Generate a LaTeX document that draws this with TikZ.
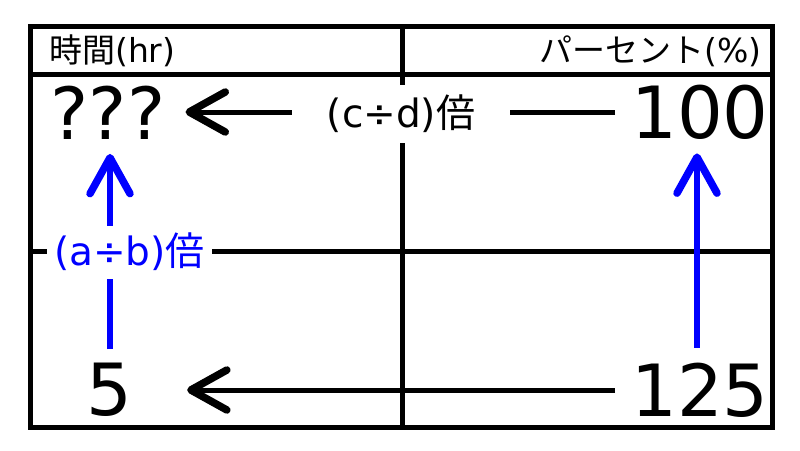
\documentclass[tikz,border=0pt]{standalone}
\usepackage{fontspec}
\setmainfont{DejaVu Sans}
\newfontfamily\jp{Noto Sans CJK JP}
\usetikzlibrary{arrows.meta}
\definecolor{myblue}{RGB}{0,0,255}
\tikzset{
  grid/.style={line width=5pt, line cap=rect},
  bignum/.style={inner sep=0pt, font=\fontsize{72}{72}\selectfont},
  header/.style={inner sep=0pt, font=\fontsize{33}{33}\selectfont},
  factor/.style={fill=white, inner sep=0pt, font=\fontsize{39}{39}\selectfont},
  blackarrow/.style={line width=5pt, -{Straight Barb[length=36pt,width=40pt,line width=7.5pt,round]}},
  bluearrow/.style={line width=5.5pt, draw=myblue, -{Straight Barb[length=36pt,width=40pt,line width=7.5pt,round]}},
}
\begin{document}
\begin{tikzpicture}[x=1pt,y=-1pt]
\useasboundingbox (0,0) rectangle (800,450);
% table
\draw[grid] (30,26) rectangle (772,427);
\draw[grid] (30,74) -- (772,74);
\draw[grid] (30,251) -- (772,251);
\draw[grid] (402,26) -- (402,427);
% headers
\node[header, anchor=west] (hL) at (49,51) {{\jp 時間}(hr)};
\node[header, anchor=east] (hR) at (762,51) {{\jp パーセント}(\%)};
% values
\node[bignum] (q) at (108,113) {???};
\node[bignum] (h) at (700,112) {100};
\node[bignum] (f) at (109,390) {5};
\node[bignum] (t) at (700,390) {125};
% arrows
\draw[blackarrow, shorten <=16pt, shorten >=20pt] (h.west) -- (q.east |- h.west);
\draw[blackarrow, shorten <=16pt, shorten >=55pt] (t.west) -- (f.east |- t.west);
\draw[bluearrow] ([xshift=-3pt,yshift=15pt]t.north) -- ([xshift=-3pt,yshift=-14pt]h.south);
\draw[bluearrow] ([xshift=1pt,yshift=14pt]f.north) -- ([xshift=2pt,yshift=-14pt]q.south);
% factor labels
\node[factor, minimum width=218pt, minimum height=58pt] (cd) at (401,114) {(c÷d){\jp 倍}};
\node[factor, text=myblue, minimum width=165pt, minimum height=53pt] (ab) at (129.5,252) {(a÷b){\jp 倍}};
\end{tikzpicture}
\end{document}
